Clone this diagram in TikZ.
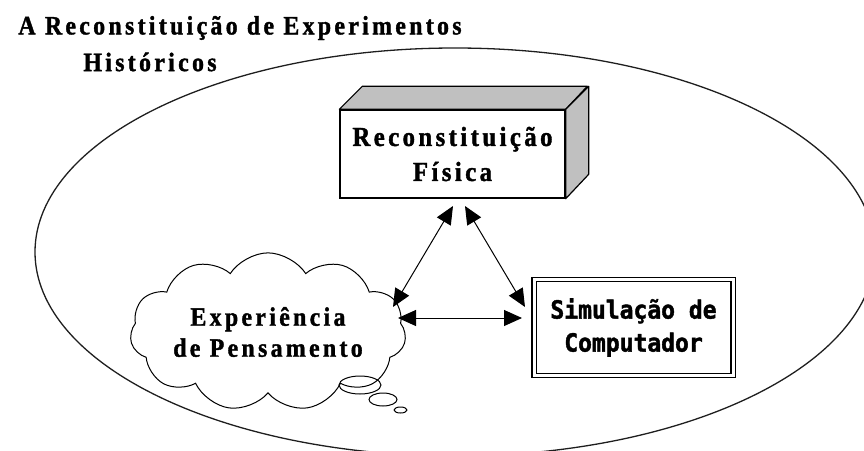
\documentclass[tikz,border=0pt]{standalone}
\usepackage{fontspec}
\setmainfont{Liberation Serif}
\newfontfamily\serifwide[LetterSpace=12.5,FakeStretch=0.9,FakeBold=1.4]{Liberation Serif}
\newfontfamily\blockfont[FakeStretch=0.92,FakeBold=1.6]{DejaVu Sans Mono}
\usetikzlibrary{arrows.meta,shapes.symbols,shapes.geometric}
\definecolor{facegray}{RGB}{192,192,192}
\definecolor{linegray}{RGB}{30,30,30}
\tikzset{
  titletext/.style={inner sep=0pt, font=\serifwide\bfseries\fontsize{26.5}{30}\selectfont},
  frontbox/.style={draw=black, line width=1.4pt, fill=white, minimum width=225pt, minimum height=88pt,
     inner sep=0pt, align=center, font=\serifwide\bfseries\fontsize{27.5}{35}\selectfont},
  thought/.style={cloud, draw=black, line width=1pt, cloud puffs=11, cloud puff arc=115, aspect=2.2,
     minimum width=244pt, minimum height=110pt, inner sep=0pt, align=center,
     font=\serifwide\bfseries\fontsize{26.5}{31}\selectfont},
  simbox/.style={draw=black, double, double distance=3pt, line width=1.3pt, minimum width=199pt,
     minimum height=96pt, inner sep=0pt, align=center,
     font=\blockfont\bfseries\fontsize{25}{33}\selectfont},
  bubble/.style={draw=black, line width=1pt, ellipse, inner sep=0pt},
  biarrow/.style={line width=1pt, {Triangle[length=18pt,width=16pt]}-{Triangle[length=18pt,width=16pt]}},
  sideface/.style={draw=black, line width=1.2pt, fill=facegray, line join=round}
}
\begin{document}
\begin{tikzpicture}[x=1pt,y=-1pt]
\useasboundingbox (0,0) rectangle (864,450);
\clip (0,0) rectangle (864,450);
% big ellipse
\draw[linegray, line width=1.3pt] (455,252) ellipse [x radius=420, y radius=204];
% title
\node[titletext] (t1) at (240,28) {A Reconstituição de Experimentos};
\node[titletext] (t2) at (150,62) {Históricos};
% physical reconstitution cube
\node[frontbox] (phys) at (452.5,154) {Reconstituição\\Física};
\draw[sideface] (phys.north west) -- ++(23,-23) -- ++(225,0) -- (phys.north east) -- cycle;
\draw[sideface] (phys.north east) -- ++(23,-23) -- ++(0,88) -- (phys.south east) -- cycle;
% thought cloud
\node[thought] (cloud) at (268,332) {Experiência\\de Pensamento};
\node[bubble, minimum width=42pt, minimum height=18pt] (b1) at (360,385) {};
\node[bubble, minimum width=28pt, minimum height=13pt] (b2) at (383,399.5) {};
\node[bubble, minimum width=13pt, minimum height=6pt] (b3) at (400.5,410) {};
% computer simulation
\node[simbox] (sim) at (633.5,327.5) {Simulação de\\Computador};
% arrow end points
\coordinate (p1) at (453,206);
\coordinate (p2) at (465,206);
\coordinate (c1) at (393,307);
\coordinate (c2) at (398,318);
\coordinate (s1) at (525,307);
\coordinate (s2) at (522,318);
\draw[biarrow] (p1) -- (c1);
\draw[biarrow] (p2) -- (s1);
\draw[biarrow] (c2) -- (s2);
\end{tikzpicture}
\end{document}
